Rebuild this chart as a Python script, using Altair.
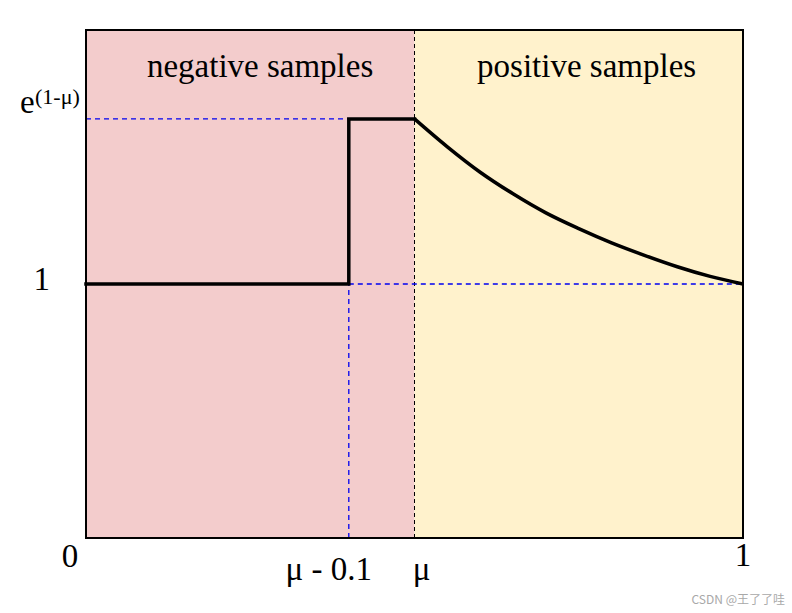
import altair as alt
import pandas as pd

MU = 0.5
MU_MINUS = 0.4
E_PEAK = 1.65  # e^(1-mu)

# step part (negative samples side)
step_x = [0.0, MU_MINUS, MU_MINUS, MU]
step_y = [1.0, 1.0, E_PEAK, E_PEAK]

# decaying curve (positive samples side)
curve_x = [0.5, 0.55, 0.6, 0.65, 0.7, 0.75, 0.8, 0.85, 0.9, 0.95, 1.0]
curve_y = [1.65, 1.54, 1.44, 1.355, 1.28, 1.218, 1.162, 1.113, 1.068, 1.03, 1.0]

regions = pd.DataFrame({
    "x": [0.0, MU], "x2": [MU, 1.0], "y": [0.0, 0.0], "y2": [2.0, 2.0],
    "name": ["negative samples", "positive samples"],
    "color": ["#f3cccc", "#fff2cc"],
})
region_labels = pd.DataFrame({
    "x": [0.265, 0.762], "y": [1.815, 1.815],
    "text": ["negative samples", "positive samples"],
})

FONT = "Liberation Serif"
W, H = 657, 508

xs = alt.Scale(domain=[0, 1], nice=False, zero=False)
ys = alt.Scale(domain=[0, 2], nice=False, zero=False)
X = lambda f="x": alt.X(f"{f}:Q", scale=xs, axis=None)
Y = lambda f="y": alt.Y(f"{f}:Q", scale=ys, axis=None)

bg = alt.Chart(regions).mark_rect().encode(
    x=X(), x2="x2:Q", y=Y(), y2="y2:Q",
    color=alt.Color("color:N", scale=None),
)

mu_line = alt.Chart(pd.DataFrame({"x": [MU], "y": [0.0], "y2": [2.0]})).mark_rule(
    color="black", strokeWidth=1, strokeDash=[4, 3]
).encode(x=X(), y=Y(), y2="y2:Q")

blue = pd.DataFrame({
    "x": [0.0, MU_MINUS, MU_MINUS],
    "x2": [MU_MINUS, 1.0, MU_MINUS],
    "y": [E_PEAK, 1.0, 0.0],
    "y2": [E_PEAK, 1.0, 1.0],
})
blue_lines = alt.Chart(blue).mark_rule(
    color="#0000f0", strokeWidth=1.3, strokeDash=[5, 4]
).encode(x=X(), x2="x2:Q", y=Y(), y2="y2:Q")

step_df = pd.DataFrame({"x": step_x, "y": step_y, "o": list(range(len(step_x)))})
step = alt.Chart(step_df).mark_line(
    color="black", strokeWidth=3.5, strokeJoin="miter", strokeCap="square"
).encode(x=X(), y=Y(), order="o:Q")

curve_df = pd.DataFrame({"x": curve_x, "y": curve_y})
curve = alt.Chart(curve_df).mark_line(
    color="black", strokeWidth=3.5, interpolate="monotone"
).encode(x=X(), y=Y())

border = alt.Chart(pd.DataFrame({"x": [0.0], "x2": [1.0], "y": [0.0], "y2": [2.0]})).mark_rect(
    fillOpacity=0, stroke="black", strokeWidth=2
).encode(x=X(), x2="x2:Q", y=Y(), y2="y2:Q")

rlabels = alt.Chart(region_labels).mark_text(
    font=FONT, fontSize=33, color="black", baseline="alphabetic", align="center"
).encode(x=X(), y=Y(), text="text:N")

def label(x, y, text, size=33, dx=0, dy=0, align="center", font=FONT, color="black"):
    return alt.Chart(pd.DataFrame({"x": [x], "y": [y], "t": [text]})).mark_text(
        font=font, fontSize=size, dx=dx, dy=dy, align=align,
        baseline="alphabetic", color=color
    ).encode(x=X(), y=Y(), text="t:N")

ticks = [
    label(0.0, 0.0, "0", dx=-16, dy=29),
    label(1.0, 0.0, "1", dx=0, dy=28),
    label(MU_MINUS, 0.0, "μ - 0.1", dx=-20, dy=42),
    label(MU, 0.0, "μ", dx=7, dy=42),
    label(0.0, 1.0, "1", dx=-36, dy=6, align="right"),
    label(0.0, E_PEAK, "e", dx=-66, dy=-6, align="left"),
    label(0.0, E_PEAK, "(1-μ)", size=22, dx=-51, dy=-15, align="left"),
    label(1.0, 0.0, "CSDN @王了了哇", size=12, dx=42, dy=66, align="right",
          font="Noto Sans CJK SC", color="#a8a8a8"),
]

chart = alt.layer(bg, mu_line, blue_lines, step, curve, border, rlabels, *ticks).properties(
    width=W, height=H,
    autosize=alt.AutoSizeParams(type="none"),
    padding={"left": 86, "top": 30, "right": 49, "bottom": 75},
).configure_view(stroke=None).configure(background="white")

chart.save("out.html", embed_options={"renderer": "svg", "actions": False})
